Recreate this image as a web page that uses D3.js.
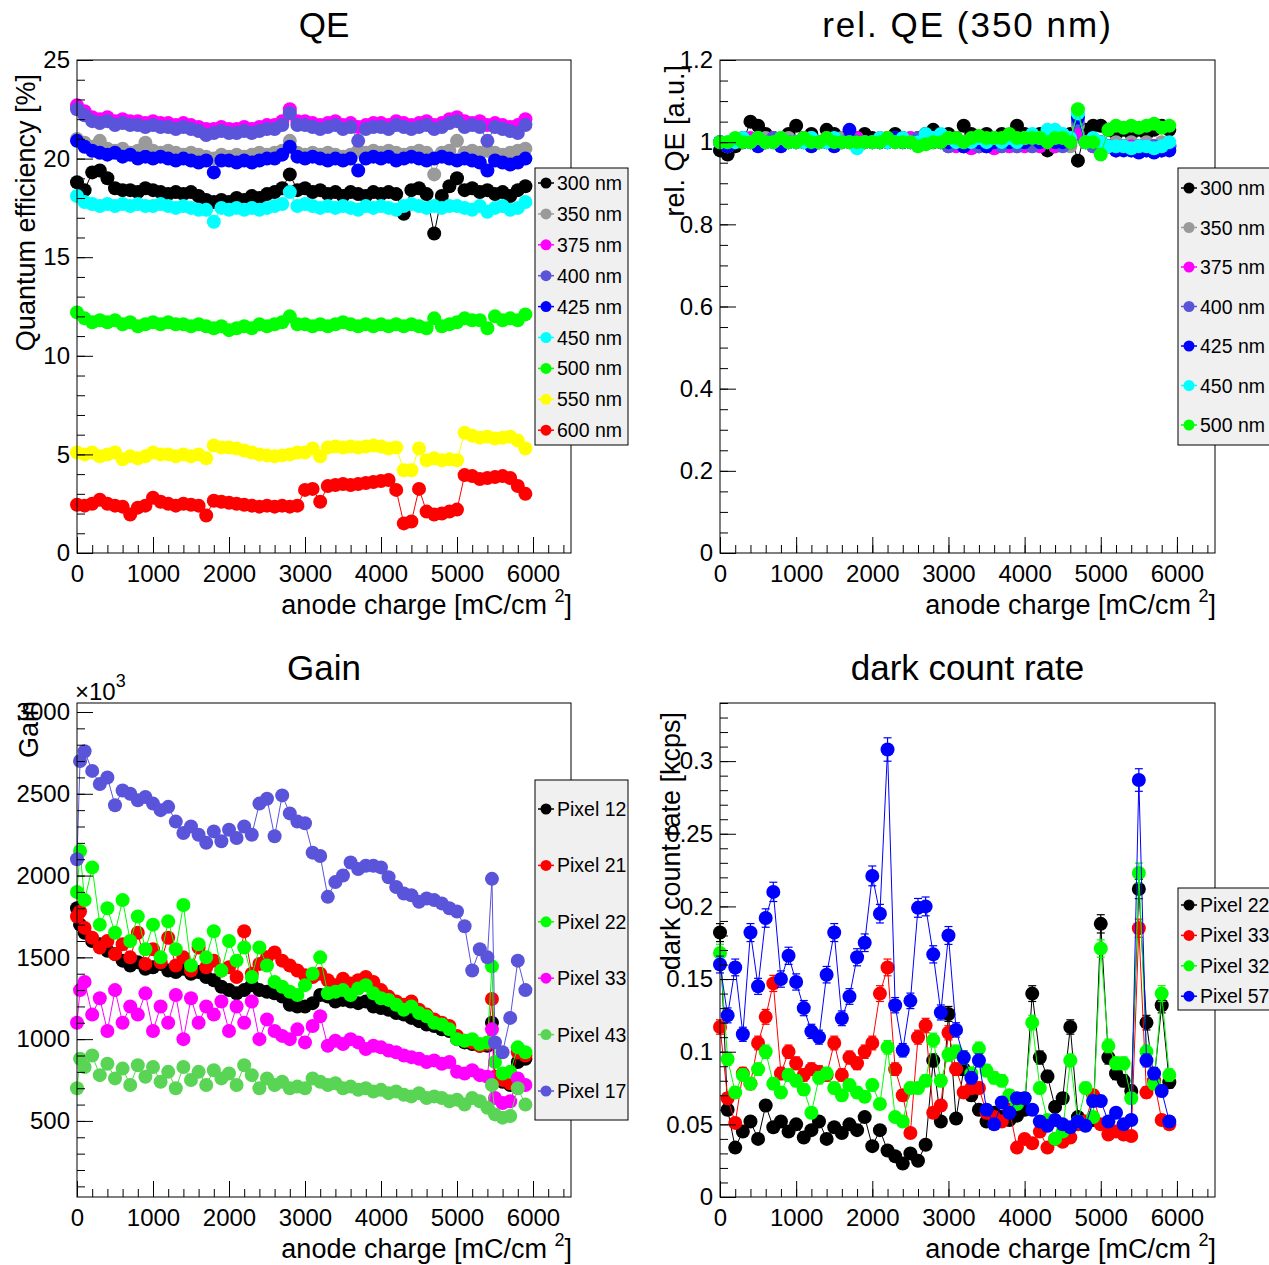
<!DOCTYPE html>
<html>
<head>
<meta charset="utf-8">
<script src="https://cdn.jsdelivr.net/npm/d3@7"></script>
<style>
body { margin: 0; background: #fff; }
svg { display: block; }
text { font-family: "Liberation Sans", Arial, Helvetica, sans-serif; }
</style>
</head>
<body>
<svg id="chart" width="1269" height="1265"></svg>
<script>
// anode charge [mC/cm2] of each measurement
var chargeSteps = [
    0, 100, 200, 300, 400, 500, 600, 700, 800, 900,
    1000, 1100, 1200, 1300, 1400, 1500, 1600, 1700, 1800, 1900,
    2000, 2100, 2200, 2300, 2400, 2500, 2600, 2700, 2800, 2900,
    3000, 3100, 3200, 3300, 3400, 3500, 3600, 3700, 3800, 3900,
    4000, 4100, 4200, 4300, 4400, 4500, 4600, 4700, 4800, 4900,
    5000, 5100, 5200, 5300, 5400, 5500, 5600, 5700, 5800, 5900
];
var gainCharge = [
    0, 40, 100, 200, 300, 400, 500, 600, 700, 800,
    900, 1000, 1100, 1200, 1300, 1400, 1500, 1600, 1700, 1800,
    1900, 2000, 2100, 2200, 2300, 2400, 2500, 2600, 2700, 2800,
    2900, 3000, 3100, 3200, 3300, 3400, 3500, 3600, 3700, 3800,
    3900, 4000, 4100, 4200, 4300, 4400, 4500, 4600, 4700, 4800,
    4900, 5000, 5100, 5200, 5300, 5400, 5460, 5500, 5600, 5700,
    5800, 5900
];

// QE [%]
var qe300 = [
    18.8,18.4,19.3,19.4,19.0,18.5,18.4,18.4,18.3,18.5,
    18.4,18.3,18.2,18.3,18.2,18.3,18.1,17.9,17.8,17.9,
    17.8,18.0,17.9,18.1,18.0,18.2,18.3,18.5,19.2,18.4,
    18.5,18.3,18.4,18.2,18.3,18.1,18.3,18.2,18.1,18.3,
    18.2,18.3,18.2,17.2,18.4,18.5,18.2,16.2,18.1,18.6,
    19.0,18.4,18.5,18.3,18.4,18.2,18.3,18.1,18.4,18.6
];
var qe350 = [
    21.0,20.8,20.6,20.9,20.5,20.4,20.5,20.3,20.4,20.8,
    20.4,20.3,20.4,20.3,20.2,20.3,20.2,20.1,20.0,20.2,
    20.1,20.2,20.1,20.2,20.3,20.2,20.3,20.4,20.9,20.3,
    20.2,20.3,20.2,20.3,20.2,20.1,20.2,20.4,20.3,20.4,
    20.3,20.4,20.3,20.2,20.3,20.4,20.3,19.2,20.3,20.4,
    20.9,20.3,20.4,20.3,20.4,20.3,20.2,20.3,20.4,20.5
];
var qe375 = [
    22.7,22.4,22.1,22.0,22.1,21.9,22.0,21.9,21.9,21.8,
    21.9,21.8,21.8,21.7,21.8,21.7,21.6,21.5,21.5,21.6,
    21.5,21.5,21.6,21.5,21.6,21.7,21.7,21.9,22.5,21.9,
    21.9,21.8,21.7,21.8,21.9,21.7,21.8,21.6,21.7,21.8,
    21.8,21.7,21.9,21.8,21.7,21.8,21.9,21.7,21.8,22.0,
    22.1,21.9,21.8,21.9,21.7,21.8,21.7,21.6,21.7,22.0
];
var qe400 = [
    22.5,22.2,21.9,21.8,21.9,21.7,21.8,21.7,21.7,21.6,
    21.7,21.6,21.6,21.5,21.6,21.5,21.4,21.2,21.3,21.4,
    21.3,21.3,21.4,21.3,21.4,21.5,21.5,21.7,22.3,21.7,
    21.7,21.6,21.5,21.6,21.7,21.5,21.6,20.9,21.5,21.6,
    21.6,21.5,21.7,21.6,21.5,21.6,21.7,21.5,21.6,21.8,
    21.9,21.6,21.7,21.6,20.9,21.6,21.5,21.4,21.3,21.7
];
var qe425 = [
    20.9,20.6,20.4,20.3,20.2,20.3,20.1,20.2,20.0,20.1,
    20.0,20.1,20.0,19.9,20.0,19.9,19.8,19.9,19.3,19.9,
    19.9,19.8,19.9,19.8,19.9,20.0,20.0,20.2,20.6,20.1,
    20.0,20.1,20.0,19.9,20.0,19.9,20.0,19.4,20.0,20.1,
    20.0,20.1,19.9,20.0,20.1,20.0,19.9,20.0,20.1,20.0,
    19.9,20.0,19.9,19.8,19.4,19.9,19.8,19.7,19.8,20.0
];
var qe450 = [
    18.1,17.8,17.7,17.6,17.7,17.6,17.7,17.6,17.7,17.6,
    17.6,17.7,17.6,17.5,17.6,17.5,17.4,17.4,16.8,17.5,
    17.4,17.5,17.4,17.5,17.4,17.5,17.6,17.7,18.3,17.6,
    17.7,17.6,17.5,17.6,17.5,17.6,17.5,17.4,17.6,17.5,
    17.6,17.5,17.4,17.6,17.7,17.6,17.5,17.6,17.5,17.6,
    17.6,17.5,17.4,17.6,17.3,17.5,17.6,17.4,17.5,17.8
];
var qe500 = [
    12.2,11.9,11.7,11.8,11.7,11.8,11.6,11.7,11.5,11.6,
    11.7,11.6,11.7,11.6,11.6,11.5,11.6,11.5,11.4,11.5,
    11.3,11.4,11.5,11.4,11.6,11.5,11.6,11.7,12.0,11.6,
    11.6,11.5,11.6,11.5,11.6,11.7,11.6,11.5,11.6,11.5,
    11.6,11.5,11.6,11.5,11.6,11.5,11.4,11.9,11.5,11.6,
    11.7,11.9,11.8,11.8,11.4,12.0,11.8,11.9,11.8,12.1
];
var qe550 = [
    5.1,5.0,5.1,4.9,5.0,5.1,4.75,4.9,4.8,4.9,
    5.1,5.0,5.0,4.9,5.0,4.9,5.0,4.8,5.45,5.35,
    5.35,5.3,5.2,5.1,5.0,4.95,4.9,4.95,5.0,5.1,
    5.1,5.3,4.9,5.35,5.4,5.35,5.4,5.35,5.4,5.45,
    5.4,5.3,5.35,4.2,4.2,5.3,4.7,4.8,4.7,4.75,
    4.7,6.1,5.95,5.85,5.9,5.8,5.85,5.9,5.7,5.3
];
var qe600 = [
    2.45,2.4,2.5,2.7,2.5,2.4,2.35,1.95,2.3,2.4,
    2.8,2.6,2.5,2.4,2.5,2.45,2.4,1.9,2.65,2.6,
    2.55,2.5,2.45,2.4,2.35,2.4,2.35,2.4,2.35,2.4,
    3.2,3.25,2.6,3.4,3.45,3.5,3.45,3.5,3.55,3.6,
    3.65,3.7,3.2,1.5,1.6,3.25,2.1,1.95,2.0,2.1,
    2.2,3.95,3.9,3.75,3.8,3.85,3.9,3.8,3.4,3.0
];

// relative QE
var rel300 = [
    0.98,0.97,0.99,1.00,1.05,1.04,1.02,1.01,1.00,1.02,
    1.04,1.01,1.02,1.00,1.03,1.02,1.01,1.00,1.01,1.02,
    1.01,1.00,1.01,1.02,1.01,1.00,1.01,1.02,1.03,1.01,
    1.02,1.01,1.04,1.02,1.01,1.02,1.01,1.02,1.01,1.04,
    1.02,1.01,1.02,0.98,1.02,1.01,1.02,0.955,1.03,1.04,
    1.04,1.03,1.02,1.03,1.02,1.03,1.02,1.03,1.04,1.03
];
var rel350 = [
    1.00,0.99,1.00,1.01,1.00,1.00,1.01,1.00,1.00,1.01,
    1.00,1.00,1.01,1.00,1.00,1.00,1.01,1.00,1.00,1.00,
    1.00,1.00,1.01,1.00,1.00,1.01,1.00,1.00,1.01,1.00,
    1.00,1.00,0.99,1.00,0.99,1.00,0.99,1.00,0.99,1.00,
    1.00,0.99,1.00,1.00,0.99,1.00,0.99,1.04,1.00,0.99,
    1.00,0.99,1.00,0.99,1.00,0.99,1.00,0.99,1.00,0.99
];
var rel375 = [
    1.00,0.99,1.00,1.00,1.01,1.00,1.00,1.01,1.00,1.00,
    1.00,1.01,1.00,1.00,1.01,1.00,1.00,1.00,1.01,1.00,
    1.00,1.01,1.00,1.00,1.00,1.01,1.00,1.00,1.01,1.00,
    0.99,0.99,0.99,0.985,0.99,0.99,0.985,0.99,0.99,0.99,
    0.99,1.00,0.99,1.00,0.99,1.00,1.00,1.02,1.00,0.99,
    0.99,0.99,0.98,0.99,0.99,0.98,0.99,0.99,0.98,0.99
];
var rel400 = [
    1.00,0.99,1.00,1.01,1.00,1.00,1.00,1.01,1.00,1.00,
    1.00,1.00,1.01,1.00,1.00,1.00,1.00,1.01,1.00,1.00,
    1.00,1.00,1.00,1.01,1.00,1.00,1.01,1.00,1.00,1.00,
    0.99,1.00,0.99,1.00,0.99,0.99,1.00,0.99,1.00,0.99,
    1.00,0.99,1.00,1.00,1.00,0.99,1.00,1.05,1.00,0.99,
    0.99,0.99,0.98,0.99,0.98,0.99,0.98,0.99,0.98,0.99
];
var rel425 = [
    1.00,0.99,1.00,1.00,1.00,0.99,1.00,1.00,0.99,1.00,
    1.00,1.00,0.99,1.00,1.00,0.99,1.00,1.03,1.00,1.00,
    1.00,1.00,1.00,1.01,1.00,1.00,1.00,1.01,1.00,1.00,
    1.00,1.00,0.99,1.00,1.00,0.99,1.00,1.00,1.00,1.00,
    1.00,1.01,1.00,1.01,1.00,1.00,1.01,1.06,1.00,1.00,
    1.00,0.99,0.98,0.98,0.98,0.975,0.98,0.975,0.98,0.98
];
var rel450 = [
    1.00,1.00,1.00,1.01,1.00,1.01,1.00,1.00,1.01,1.00,
    1.00,1.00,1.01,1.00,1.00,1.01,1.00,1.00,0.985,1.00,
    1.00,1.01,1.00,1.00,1.01,1.00,1.00,1.02,1.01,1.02,
    1.01,1.00,1.00,1.00,1.01,1.00,1.01,1.00,1.01,1.00,
    1.01,1.02,1.01,1.03,1.03,1.02,1.01,1.07,1.00,1.01,
    1.00,0.99,0.99,0.99,0.985,0.99,0.99,0.985,0.99,1.00
];
var rel500 = [
    1.00,1.00,1.01,1.00,1.00,1.01,1.00,1.00,1.01,1.00,
    1.00,1.01,1.00,1.00,1.01,1.00,1.00,1.00,1.00,1.00,
    1.00,1.00,1.01,1.00,1.00,1.00,0.99,0.995,1.00,1.00,
    1.01,1.01,1.00,1.01,1.015,1.01,1.01,1.01,1.02,1.01,
    1.01,1.01,1.01,1.00,1.01,1.01,1.00,1.08,1.00,1.00,
    0.97,1.03,1.04,1.035,1.04,1.035,1.04,1.045,1.035,1.04
];

// gain (x10^3)
var gain12 = [
    1800,1700,1650,1600,1580,1540,1520,1480,1450,1470,
    1430,1440,1460,1420,1410,1430,1400,1410,1380,1360,
    1320,1300,1280,1300,1330,1300,1290,1280,1260,1210,
    1200,1200,1220,1270,1260,1230,1240,1230,1220,1230,
    1200,1190,1180,1160,1150,1130,1110,1090,1080,1060,
    1050,1000,980,970,960,960,1100,760,740,720,
    860,880
];
var gain21 = [
    1750,1780,1680,1620,1560,1600,1520,1580,1500,1650,
    1460,1550,1470,1620,1450,1500,1420,1560,1440,1480,
    1420,1440,1380,1660,1400,1460,1500,1530,1480,1450,
    1420,1390,1380,1400,1360,1330,1370,1340,1360,1380,
    1350,1300,1260,1230,1210,1230,1180,1150,1120,1100,
    1080,1020,990,980,960,970,1245,770,750,730,
    920,900
];
var gain22 = [
    1900,2150,1850,2050,1700,1800,1650,1850,1600,1750,
    1550,1700,1500,1720,1550,1820,1450,1580,1500,1660,
    1420,1600,1480,1560,1380,1560,1450,1350,1320,1290,
    1270,1330,1400,1500,1280,1290,1300,1270,1310,1330,
    1280,1250,1240,1210,1180,1200,1160,1140,1100,1090,
    1060,1000,990,1000,970,980,1445,860,790,800,
    950,920
];
var gain33 = [
    1100,1300,1350,1150,1250,1050,1300,1100,1200,1150,
    1280,1050,1200,1100,1270,1000,1250,1100,1200,1150,
    1230,1050,1200,1100,1230,1000,1120,1050,1020,1000,
    1060,980,1080,1140,960,990,970,1000,980,940,
    960,950,930,920,900,890,880,860,870,850,
    860,800,790,810,780,770,1060,640,610,620,
    760,720
];
var gain43 = [
    700,880,830,900,780,850,760,820,720,840,
    770,830,740,800,700,830,750,800,720,810,
    760,790,720,840,780,700,760,720,740,700,
    710,700,760,740,720,730,700,710,690,700,
    680,690,670,680,660,650,670,640,650,640,
    620,630,600,640,620,580,720,540,520,530,
    700,600
];
var gain17 = [
    2100,2700,2760,2640,2560,2600,2430,2520,2500,2460,
    2480,2440,2400,2420,2330,2260,2300,2250,2200,2270,
    2210,2280,2230,2300,2250,2440,2470,2240,2490,2380,
    2330,2320,2140,2120,1870,1960,2000,2080,2040,2060,
    2060,2050,1990,1930,1890,1880,1840,1860,1850,1830,
    1800,1780,1690,1420,1550,1500,1980,980,920,1130,
    1480,1300
];

// dark count rate [kcps]
var dcr22 = [
    0.182,0.060,0.034,0.045,0.052,0.040,0.063,0.048,0.052,0.045,
    0.050,0.041,0.046,0.052,0.040,0.048,0.044,0.050,0.046,0.055,
    0.035,0.046,0.032,0.028,0.023,0.030,0.025,0.036,0.094,0.052,
    0.126,0.054,0.088,0.070,0.060,0.052,0.058,0.055,0.053,0.056,
    0.060,0.140,0.096,0.083,0.062,0.068,0.117,0.055,0.050,0.053,
    0.188,0.096,0.085,0.080,0.073,0.212,0.120,0.080,0.132,0.079
];
var dcr33 = [
    0.117,0.068,0.051,0.085,0.078,0.106,0.124,0.147,0.085,0.100,
    0.092,0.084,0.088,0.086,0.084,0.106,0.084,0.096,0.092,0.100,
    0.106,0.140,0.158,0.088,0.070,0.044,0.110,0.118,0.058,0.063,
    0.113,0.088,0.072,0.075,0.075,0.058,0.055,0.052,0.060,0.034,
    0.040,0.037,0.045,0.034,0.040,0.038,0.041,0.050,0.052,0.070,
    0.050,0.043,0.045,0.043,0.042,0.185,0.072,0.080,0.053,0.050
];
var dcr32 = [
    0.168,0.095,0.072,0.084,0.078,0.088,0.100,0.078,0.072,0.084,
    0.080,0.074,0.058,0.082,0.085,0.075,0.070,0.077,0.072,0.069,
    0.077,0.064,0.103,0.055,0.052,0.075,0.075,0.080,0.108,0.080,
    0.098,0.100,0.096,0.085,0.102,0.087,0.082,0.080,0.070,0.064,
    0.068,0.120,0.075,0.053,0.040,0.045,0.094,0.052,0.075,0.055,
    0.171,0.104,0.092,0.092,0.068,0.223,0.100,0.078,0.140,0.084
];
var dcr57 = [
    0.160,0.125,0.158,0.112,0.182,0.145,0.192,0.210,0.150,0.166,
    0.148,0.130,0.114,0.110,0.153,0.182,0.123,0.138,0.165,0.175,
    0.221,0.195,0.308,0.132,0.101,0.135,0.199,0.200,0.167,0.127,
    0.180,0.115,0.096,0.082,0.094,0.060,0.050,0.065,0.058,0.068,
    0.068,0.060,0.052,0.049,0.053,0.050,0.048,0.052,0.049,0.066,
    0.066,0.052,0.058,0.050,0.053,0.287,0.094,0.085,0.073,0.052
];

var xTicks = [0, 1000, 2000, 3000, 4000, 5000, 6000];

var svg = d3.select("#chart");

function drawPanel(p) {
    var x = d3.scaleLinear().domain([0, 6500]).range([p.left, p.left + p.width]);
    var y = d3.scaleLinear().domain(p.yDomain).range([p.top + p.height, p.top]);
    var g = svg.append("g");

    p.series.forEach(function(s) {
        var pts = s.values.map(function(v, i) { return {x: p.charge[i], y: v}; });
        var line = d3.line()
            .x(function(d) { return x(d.x); })
            .y(function(d) { return y(d.y); });
        g.append("path")
            .datum(pts)
            .attr("d", line)
            .attr("fill", "none")
            .attr("stroke", s.color)
            .attr("stroke-width", 1);

        if (p.errScale) {
            // poisson-like error bars, as drawn by ROOT
            var eb = g.append("g").attr("stroke", s.color).attr("stroke-width", 1.2);
            pts.forEach(function(d) {
                var e = p.errScale * Math.sqrt(d.y);
                var cx = x(d.x), y0 = y(d.y - e), y1 = y(d.y + e);
                eb.append("line").attr("x1", cx).attr("x2", cx).attr("y1", y0).attr("y2", y1);
                eb.append("line").attr("x1", cx - 4).attr("x2", cx + 4).attr("y1", y0).attr("y2", y0);
                eb.append("line").attr("x1", cx - 4).attr("x2", cx + 4).attr("y1", y1).attr("y2", y1);
            });
        }

        g.append("g").selectAll("circle")
            .data(pts)
            .enter().append("circle")
            .attr("cx", function(d) { return x(d.x); })
            .attr("cy", function(d) { return y(d.y); })
            .attr("r", 7)
            .attr("fill", s.color);
    });

    // axes, ticks pointing into the frame
    var bottom = p.top + p.height;
    var xMinor = d3.range(0, 6501, 200);
    g.append("g").attr("transform", "translate(0," + bottom + ")")
        .call(d3.axisBottom(x).tickValues(xMinor).tickSize(-8).tickFormat(""));
    var xa = g.append("g").attr("transform", "translate(0," + bottom + ")")
        .call(d3.axisBottom(x).tickValues(xTicks).tickSize(-16).tickPadding(12).tickFormat(d3.format("d")));
    g.append("g").attr("transform", "translate(" + p.left + ",0)")
        .call(d3.axisLeft(y).tickValues(p.yMinor).tickSize(-8).tickFormat(""));
    var ya = g.append("g").attr("transform", "translate(" + p.left + ",0)")
        .call(d3.axisLeft(y).tickValues(p.yMajor).tickSize(-16).tickPadding(7).tickFormat(p.yFormat));
    g.selectAll(".domain").remove();
    g.selectAll(".tick line").attr("stroke", "#000");
    xa.selectAll("text").attr("font-size", 24).attr("fill", "#000").style("font-family", "Liberation Sans, Arial, sans-serif");
    ya.selectAll("text").attr("font-size", 24).attr("fill", "#000").style("font-family", "Liberation Sans, Arial, sans-serif");

    g.append("rect")
        .attr("x", p.left).attr("y", p.top)
        .attr("width", p.width).attr("height", p.height)
        .attr("fill", "none").attr("stroke", "#000").attr("stroke-width", 1);

    // title
    g.append("text")
        .attr("x", p.left + p.width / 2)
        .attr("y", p.top - 23)
        .attr("text-anchor", "middle")
        .attr("font-size", 35)
        .attr("letter-spacing", p.titleSpacing || 0)
        .text(p.title);

    // x title with superscript
    var xt = g.append("text")
        .attr("x", p.left + p.width + 1)
        .attr("y", bottom + 61)
        .attr("text-anchor", "end")
        .attr("font-size", 27);
    xt.append("tspan").text("anode charge [mC/cm ");
    xt.append("tspan").attr("dy", -12).attr("font-size", 18).text("2");
    xt.append("tspan").attr("dy", 12).text("]");

    // y title
    g.append("text")
        .attr("transform", "translate(" + p.yTitleX + "," + p.yTitleEnd + ") rotate(-90)")
        .attr("text-anchor", "end")
        .attr("font-size", 27)
        .text(p.yTitle);

    if (p.exponent) {
        var ex = g.append("text")
            .attr("x", p.left - 2)
            .attr("y", p.top - 3)
            .attr("font-size", 24);
        ex.append("tspan").text("\u00d710");
        ex.append("tspan").attr("dy", -13).attr("font-size", 18).text("3");
    }

    // legend
    var L = p.legend;
    var lg = g.append("g");
    lg.append("rect")
        .attr("x", L.x).attr("y", L.y)
        .attr("width", L.w).attr("height", L.h)
        .attr("fill", "#f0f0f0").attr("stroke", "#000").attr("stroke-width", 1);
    var rows = lg.selectAll("g.entry")
        .data(p.series)
        .enter().append("g")
        .attr("class", "entry")
        .attr("transform", function(d, i) { return "translate(" + (L.x + 11) + "," + (L.first + i * L.step) + ")"; });
    rows.append("line")
        .attr("x1", -8).attr("x2", 8)
        .attr("stroke", function(d) { return d.color; })
        .attr("stroke-width", 1.5);
    rows.append("circle")
        .attr("r", 5.5)
        .attr("fill", function(d) { return d.color; });
    rows.append("text")
        .attr("x", 11)
        .attr("dy", "0.36em")
        .attr("font-size", 19.5)
        .text(function(d) { return d.label; });
}

drawPanel({
    left: 77, top: 60, width: 494, height: 493,
    charge: chargeSteps,
    yDomain: [0, 25],
    yMajor: [0, 5, 10, 15, 20, 25],
    yMinor: d3.range(0, 25.5, 1),
    yFormat: d3.format("d"),
    title: "QE",
    yTitle: "Quantum efficiency [%]",
    yTitleX: 35, yTitleEnd: 74,
    legend: {x: 535, y: 168, w: 93, h: 277, first: 183, step: 30.9},
    series: [
        {label: "300 nm", color: "#000000", values: qe300},
        {label: "350 nm", color: "#9a9a9a", values: qe350},
        {label: "375 nm", color: "#ff00ff", values: qe375},
        {label: "400 nm", color: "#5954d9", values: qe400},
        {label: "425 nm", color: "#0000ff", values: qe425},
        {label: "450 nm", color: "#00ffff", values: qe450},
        {label: "500 nm", color: "#00ff00", values: qe500},
        {label: "550 nm", color: "#ffff00", values: qe550},
        {label: "600 nm", color: "#ff0000", values: qe600}
    ]
});

drawPanel({
    left: 720, top: 60, width: 495, height: 493,
    charge: chargeSteps,
    yDomain: [0, 1.2],
    yMajor: [0, 0.2, 0.4, 0.6, 0.8, 1, 1.2],
    yMinor: d3.range(0, 1.21, 0.05),
    yFormat: function(d) { return String(+d.toFixed(1)); },
    title: "rel. QE (350 nm)",
    titleSpacing: 2,
    yTitle: "rel. QE [a.u.]",
    yTitleX: 684, yTitleEnd: 65,
    legend: {x: 1178, y: 168, w: 100, h: 277, first: 188, step: 39.5},
    series: [
        {label: "300 nm", color: "#000000", values: rel300},
        {label: "350 nm", color: "#9a9a9a", values: rel350},
        {label: "375 nm", color: "#ff00ff", values: rel375},
        {label: "400 nm", color: "#5954d9", values: rel400},
        {label: "425 nm", color: "#0000ff", values: rel425},
        {label: "450 nm", color: "#00ffff", values: rel450},
        {label: "500 nm", color: "#00ff00", values: rel500}
    ]
});

drawPanel({
    left: 77, top: 703, width: 494, height: 494,
    charge: gainCharge,
    yDomain: [35, 3055],
    yMajor: [500, 1000, 1500, 2000, 2500, 3000],
    yMinor: d3.range(100, 3001, 100),
    yFormat: d3.format("d"),
    title: "Gain",
    yTitle: "Gain",
    yTitleX: 38, yTitleEnd: 701,
    exponent: true,
    legend: {x: 535, y: 780, w: 93, h: 340, first: 809, step: 56.4},
    series: [
        {label: "Pixel 12", color: "#000000", values: gain12},
        {label: "Pixel 21", color: "#ff0000", values: gain21},
        {label: "Pixel 22", color: "#00ff00", values: gain22},
        {label: "Pixel 33", color: "#ff00ff", values: gain33},
        {label: "Pixel 43", color: "#59d454", values: gain43},
        {label: "Pixel 17", color: "#5954d9", values: gain17}
    ]
});

drawPanel({
    left: 720, top: 703, width: 495, height: 494,
    charge: chargeSteps,
    yDomain: [0, 0.34],
    yMajor: [0, 0.05, 0.1, 0.15, 0.2, 0.25, 0.3],
    yMinor: d3.range(0, 0.3401, 0.01),
    yFormat: function(d) { return String(+d.toFixed(2)); },
    errScale: 0.0145,
    title: "dark count rate",
    yTitle: "dark count rate [kcps]",
    yTitleX: 680, yTitleEnd: 712,
    legend: {x: 1178, y: 888, w: 100, h: 122, first: 905, step: 30.4},
    series: [
        {label: "Pixel 22", color: "#000000", values: dcr22},
        {label: "Pixel 33", color: "#ff0000", values: dcr33},
        {label: "Pixel 32", color: "#00ff00", values: dcr32},
        {label: "Pixel 57", color: "#0000ff", values: dcr57}
    ]
});
</script>
</body>
</html>
